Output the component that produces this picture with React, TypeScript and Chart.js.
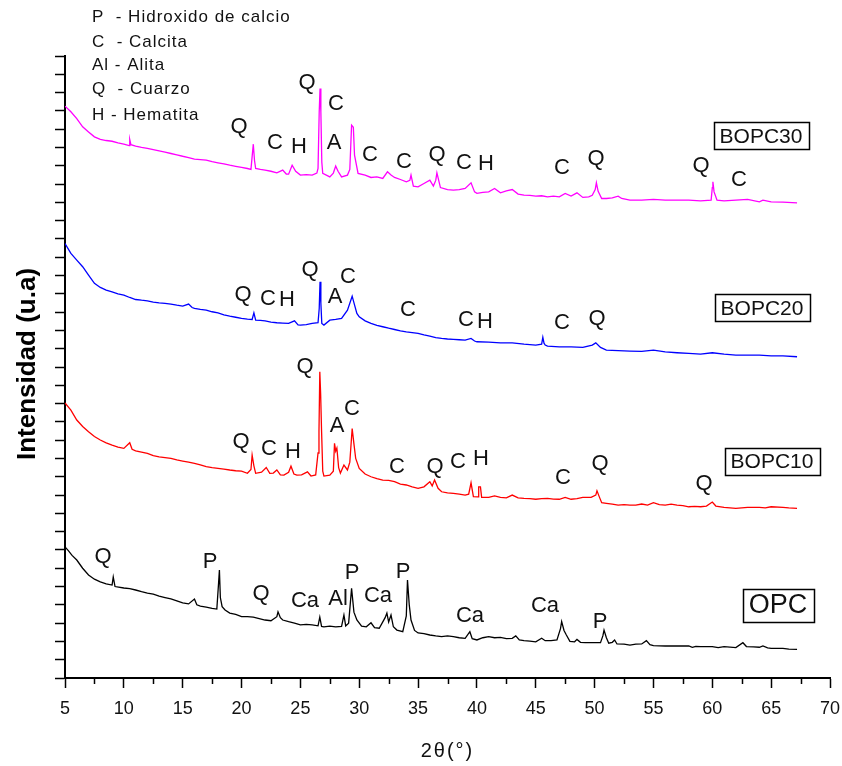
import { useEffect, useRef } from 'react';
import { Chart, registerables } from 'chart.js';

Chart.register(...registerables);

type Pt = [number, number];

// 2θ (degrees) vs. stacked intensity (arbitrary units)
const OPC: Pt[] = [
  [5, 7.17], [5.3, 6.95], [5.6, 6.7], [6, 6.45], [6.5, 6.0], [7, 5.63], [7.5, 5.4], [8, 5.26], [8.5, 5.15], [9, 5.08],
  [9.1, 5.52], [9.25, 5.0], [10, 4.92], [10.5, 4.88], [11, 4.81], [11.5, 4.72], [12, 4.64], [12.5, 4.58], [13, 4.48],
  [13.5, 4.4], [14, 4.32], [14.5, 4.22], [15, 4.11], [15.5, 4.05], [16, 4.32], [16.2, 4.0], [16.5, 3.93], [17, 3.88],
  [17.5, 3.8], [17.9, 3.77], [18.05, 5.2], [18.12, 5.9], [18.2, 4.4], [18.35, 3.9], [18.6, 3.72], [19, 3.55],
  [19.5, 3.48], [20, 3.35], [20.5, 3.36], [21, 3.33], [21.5, 3.25], [22, 3.17], [22.5, 3.13], [23.0, 3.35],
  [23.1, 3.62], [23.3, 3.3], [23.5, 3.17], [24, 3.08], [24.5, 3.0], [25, 2.9], [25.5, 2.93], [26, 2.9], [26.5, 2.85],
  [26.65, 3.33], [26.8, 2.82], [27, 2.79], [27.5, 2.83], [28, 2.8], [28.5, 2.82], [28.7, 3.44], [28.85, 2.85],
  [29.1, 3.0], [29.35, 4.9], [29.55, 3.6], [29.8, 3.17], [30.2, 2.84], [30.6, 2.8], [31, 3.02], [31.3, 2.75],
  [31.7, 2.72], [32.2, 3.3], [32.35, 3.55], [32.5, 3.06], [32.7, 3.44], [32.9, 2.8], [33.2, 2.62], [33.7, 2.53],
  [34.0, 3.4], [34.1, 5.36], [34.25, 4.0], [34.4, 3.17], [34.7, 2.6], [35, 2.46], [35.5, 2.42], [36, 2.35],
  [36.5, 2.3], [37, 2.26], [37.5, 2.3], [38, 2.26], [38.5, 2.2], [39, 2.17], [39.4, 2.53], [39.6, 2.15], [40, 2.08],
  [40.5, 2.2], [41, 2.26], [41.5, 2.2], [42, 2.22], [42.5, 2.15], [43, 2.17], [43.3, 2.3], [43.6, 2.08], [44, 2.04],
  [44.5, 2.02], [45, 1.98], [45.5, 2.17], [45.8, 2.04], [46.3, 2.04], [46.8, 2.08], [47.1, 2.7], [47.2, 3.08],
  [47.4, 2.6], [47.6, 2.35], [47.9, 2.0], [48.3, 1.98], [48.5, 2.11], [48.8, 1.95], [49.2, 1.93], [50.5, 1.93],
  [50.7, 2.3], [50.8, 2.62], [51.0, 2.2], [51.2, 1.9], [51.5, 1.95], [51.7, 2.08], [51.9, 1.86], [52.5, 1.85],
  [53, 1.8], [53.5, 1.85], [54, 1.86], [54.4, 2.04], [54.7, 1.82], [55, 1.77], [56, 1.75], [57, 1.75], [58, 1.75],
  [58.3, 1.68], [58.6, 1.73], [59, 1.71], [60, 1.71], [60.5, 1.66], [61, 1.71], [62, 1.66], [62.6, 1.93],
  [62.9, 1.72], [63.5, 1.7], [64, 1.68], [64.3, 1.75], [64.7, 1.65], [65, 1.62], [66, 1.62], [66.5, 1.58], [67.2, 1.57],
];

const BOPC10: Pt[] = [
  [5, 15.04], [5.5, 14.64], [6, 14.1], [6.5, 13.75], [7, 13.46], [7.5, 13.2], [8, 13.01], [8.5, 12.85], [9, 12.73],
  [9.5, 12.62], [10, 12.55], [10.5, 12.86], [10.7, 12.5], [11, 12.42], [11.5, 12.35], [12, 12.28], [12.5, 12.15],
  [13, 12.09], [13.5, 12.05], [14, 12.01], [14.5, 11.92], [15, 11.86], [15.5, 11.8], [16, 11.73], [16.5, 11.65],
  [17, 11.55], [17.5, 11.5], [18, 11.46], [18.5, 11.42], [19, 11.37], [19.5, 11.33], [20, 11.31], [20.5, 11.19],
  [20.8, 11.4], [20.9, 12.19], [21.05, 11.6], [21.2, 11.19], [21.7, 11.25], [22.1, 11.51], [22.4, 11.19],
  [22.7, 11.2], [23, 11.37], [23.3, 11.1], [23.6, 11.09], [24.0, 11.25], [24.2, 11.58], [24.45, 11.15], [24.7, 11.09],
  [25.1, 11.1], [25.6, 11.27], [25.9, 11.04], [26.3, 11.1], [26.5, 12.3], [26.58, 13.5], [26.65, 16.74],
  [26.72, 15.57], [26.8, 13.5], [26.9, 11.3], [27, 11.04], [27.5, 11.09], [27.8, 11.3], [27.9, 12.83], [28.0, 12.4],
  [28.1, 12.57], [28.25, 11.5], [28.4, 11.2], [28.7, 11.64], [29.0, 11.37], [29.2, 11.8], [29.4, 13.64],
  [29.55, 12.8], [29.7, 12.0], [30, 11.46], [30.5, 11.15], [31, 11.0], [31.5, 10.9], [32, 10.82], [32.5, 10.8],
  [33, 10.73], [33.5, 10.6], [34, 10.55], [34.5, 10.45], [35, 10.37], [35.5, 10.45], [36, 10.73], [36.2, 10.5],
  [36.4, 10.82], [36.7, 10.37], [37, 10.18], [37.5, 10.12], [38, 10.09], [38.5, 10.05], [39, 10.0], [39.3, 10.05],
  [39.5, 10.67], [39.7, 9.91], [40.1, 9.9], [40.15, 10.45], [40.3, 10.45], [40.4, 9.87], [41, 9.87], [41.5, 9.95],
  [42, 9.87], [42.5, 9.85], [43, 10.0], [43.5, 9.85], [44, 9.82], [44.5, 9.8], [45, 9.77], [45.5, 9.8], [46, 9.82],
  [46.5, 9.78], [47, 9.77], [47.5, 9.87], [48, 9.77], [48.5, 9.8], [49, 9.87], [49.7, 9.87], [50.1, 10.0],
  [50.2, 10.23], [50.4, 9.9], [50.6, 9.58], [51, 9.55], [51.5, 9.5], [52, 9.45], [52.5, 9.48], [53, 9.45],
  [53.5, 9.45], [54, 9.51], [54.5, 9.45], [55, 9.58], [55.5, 9.48], [56, 9.45], [56.5, 9.5], [57, 9.45],
  [57.5, 9.42], [58, 9.36], [58.5, 9.38], [59, 9.36], [59.5, 9.4], [60, 9.62], [60.3, 9.4], [61, 9.33], [61.5, 9.3],
  [62, 9.27], [62.5, 9.3], [63, 9.33], [64, 9.33], [64.5, 9.3], [65, 9.36], [66, 9.33], [66.5, 9.3], [67.2, 9.27],
];

const BOPC20: Pt[] = [
  [5, 23.75], [5.5, 23.21], [6, 22.84], [6.5, 22.48], [7, 22.02], [7.5, 21.57], [8, 21.35], [8.5, 21.2], [9, 21.11],
  [9.5, 21.0], [10, 20.93], [10.5, 20.8], [11, 20.69], [11.5, 20.65], [12, 20.62], [12.5, 20.55], [13, 20.51],
  [13.5, 20.48], [14, 20.44], [14.5, 20.38], [15, 20.33], [15.5, 20.44], [15.8, 20.25], [16, 20.2], [16.5, 20.15],
  [17, 20.11], [17.5, 20.02], [18, 19.96], [18.5, 19.85], [19, 19.78], [19.5, 19.72], [20, 19.66], [20.5, 19.62],
  [20.9, 19.6], [21.05, 19.96], [21.2, 19.56], [21.6, 19.55], [22, 19.52], [22.5, 19.45], [23, 19.42], [23.5, 19.4],
  [24, 19.38], [24.5, 19.52], [24.8, 19.3], [25, 19.29], [25.5, 19.32], [26, 19.38], [26.5, 19.42], [26.6, 20.2],
  [26.67, 21.66], [26.74, 20.5], [26.82, 19.38], [27, 19.29], [27.5, 19.56], [28, 19.6], [28.5, 19.66], [29, 20.11],
  [29.4, 20.87], [29.6, 20.4], [29.8, 19.93], [30, 19.74], [30.5, 19.52], [31, 19.38], [31.5, 19.28], [32, 19.2],
  [32.5, 19.12], [33, 19.05], [33.5, 18.98], [34, 18.92], [34.5, 18.88], [35, 18.84], [35.5, 18.76], [36, 18.69],
  [36.5, 18.6], [37, 18.56], [37.5, 18.53], [38, 18.51], [38.5, 18.49], [39, 18.47], [39.5, 18.56], [39.8, 18.42],
  [40, 18.38], [41, 18.36], [42, 18.32], [43, 18.32], [44, 18.25], [45, 18.2], [45.5, 18.25], [45.6, 18.62],
  [45.7, 18.3], [45.8, 18.2], [46, 18.14], [47, 18.1], [48, 18.1], [49, 18.07], [49.8, 18.2], [50.1, 18.32],
  [50.5, 18.07], [51, 17.92], [52, 17.89], [53, 17.87], [54, 17.85], [55, 17.92], [56, 17.83], [57, 17.78],
  [58, 17.74], [59, 17.7], [60, 17.78], [61, 17.7], [62, 17.65], [63, 17.65], [64, 17.65], [65, 17.61], [66, 17.61],
  [67.2, 17.56],
];

const BOPC30: Pt[] = [
  [5, 31.26], [5.5, 30.95], [6, 30.58], [6.5, 30.13], [7, 29.85], [7.5, 29.58], [8, 29.44], [8.5, 29.38], [9, 29.34],
  [9.5, 29.25], [10, 29.18], [10.45, 29.1], [10.5, 29.44], [10.6, 29.15], [11, 29.07], [11.5, 29.0], [12, 28.95],
  [12.5, 28.88], [13, 28.81], [13.5, 28.74], [14, 28.67], [14.5, 28.6], [15, 28.52], [15.5, 28.45], [16, 28.36],
  [16.5, 28.34], [17, 28.31], [17.5, 28.22], [18, 28.16], [18.5, 28.1], [19, 28.03], [19.5, 27.97], [20, 27.91],
  [20.5, 27.85], [20.8, 27.8], [20.9, 28.5], [21.0, 29.18], [21.1, 28.3], [21.2, 27.85], [21.6, 27.8], [22, 27.76],
  [22.5, 27.7], [23, 27.61], [23.5, 27.76], [23.8, 27.55], [24, 27.54], [24.3, 28.03], [24.6, 27.7], [25, 27.49],
  [25.5, 27.52], [26, 27.49], [26.4, 27.6], [26.5, 27.85], [26.6, 30.95], [26.67, 32.22], [26.74, 30.95],
  [26.82, 28.2], [26.9, 27.58], [27.5, 27.39], [27.8, 27.6], [28, 27.98], [28.2, 27.7], [28.5, 27.39], [29, 27.49],
  [29.2, 27.8], [29.35, 30.22], [29.5, 30.1], [29.6, 28.58], [29.9, 27.58], [30.5, 27.49], [31, 27.36],
  [31.5, 27.39], [32, 27.31], [32.4, 27.67], [32.7, 27.49], [33, 27.36], [33.5, 27.25], [34, 27.12], [34.3, 27.2],
  [34.4, 27.49], [34.6, 26.89], [35, 26.85], [35.5, 27.03], [36, 27.21], [36.3, 26.89], [36.5, 27.2], [36.6, 27.61],
  [36.9, 26.81], [37.5, 26.7], [38, 26.67], [38.5, 26.7], [39, 26.76], [39.5, 27.07], [39.8, 26.57], [40, 26.49],
  [40.5, 26.55], [41, 26.57], [41.5, 26.76], [42, 26.52], [42.5, 26.63], [43, 26.7], [43.5, 26.45], [44, 26.39],
  [44.5, 26.38], [45, 26.34], [45.5, 26.36], [46, 26.3], [46.5, 26.34], [47, 26.3], [47.5, 26.49], [48, 26.34],
  [48.5, 26.52], [49, 26.27], [49.5, 26.3], [49.8, 26.39], [50.05, 26.7], [50.15, 27.07], [50.3, 26.6],
  [50.6, 26.21], [51, 26.21], [51.5, 26.25], [52, 26.34], [52.3, 26.21], [53, 26.12], [54, 26.12], [55, 26.16],
  [56, 26.12], [57, 26.12], [58, 26.12], [59, 26.08], [59.9, 26.12], [60.0, 26.8], [60.05, 27.12], [60.15, 26.57],
  [60.4, 26.12], [61, 26.08], [62, 26.12], [63, 26.16], [64, 26.03], [64.3, 26.12], [65, 26.03], [66, 26.01],
  [67.2, 25.97],
];

// Phase marks: text and anchor in data coordinates (2θ, intensity)
const PEAK_LABELS: { t: string; x: number; y: number }[] = [
  // BOPC30
  { t: 'Q', x: 19.78, y: 30.12 }, { t: 'C', x: 22.84, y: 29.25 }, { t: 'H', x: 24.88, y: 29.03 },
  { t: 'Q', x: 25.56, y: 32.53 }, { t: 'C', x: 28.03, y: 31.38 }, { t: 'A', x: 27.86, y: 29.25 },
  { t: 'C', x: 30.91, y: 28.59 }, { t: 'C', x: 33.8, y: 28.21 }, { t: 'Q', x: 36.61, y: 28.59 },
  { t: 'C', x: 38.9, y: 28.16 }, { t: 'H', x: 40.77, y: 28.1 }, { t: 'C', x: 47.23, y: 27.88 },
  { t: 'Q', x: 50.12, y: 28.37 }, { t: 'Q', x: 59.04, y: 27.99 }, { t: 'C', x: 62.27, y: 27.23 },
  // BOPC20
  { t: 'Q', x: 20.12, y: 20.94 }, { t: 'C', x: 22.25, y: 20.72 }, { t: 'H', x: 23.86, y: 20.67 },
  { t: 'Q', x: 25.82, y: 22.31 }, { t: 'A', x: 27.94, y: 20.83 }, { t: 'C', x: 29.05, y: 21.92 },
  { t: 'C', x: 34.14, y: 20.12 }, { t: 'C', x: 39.07, y: 19.57 }, { t: 'H', x: 40.69, y: 19.46 },
  { t: 'C', x: 47.23, y: 19.41 }, { t: 'Q', x: 50.2, y: 19.63 },
  // BOPC10
  { t: 'Q', x: 19.95, y: 12.9 }, { t: 'C', x: 22.33, y: 12.52 }, { t: 'H', x: 24.37, y: 12.36 },
  { t: 'Q', x: 25.39, y: 17.0 }, { t: 'A', x: 28.11, y: 13.78 }, { t: 'C', x: 29.39, y: 14.71 },
  { t: 'C', x: 33.21, y: 11.54 }, { t: 'Q', x: 36.44, y: 11.54 }, { t: 'C', x: 38.39, y: 11.81 },
  { t: 'H', x: 40.35, y: 11.97 }, { t: 'C', x: 47.31, y: 10.94 }, { t: 'Q', x: 50.46, y: 11.7 },
  { t: 'Q', x: 59.29, y: 10.61 },
  // OPC
  { t: 'Q', x: 8.23, y: 6.62 }, { t: 'P', x: 17.32, y: 6.34 }, { t: 'Q', x: 21.65, y: 4.59 },
  { t: 'Ca', x: 25.39, y: 4.21 }, { t: 'Al', x: 28.2, y: 4.32 }, { t: 'P', x: 29.39, y: 5.74 },
  { t: 'Ca', x: 31.59, y: 4.48 }, { t: 'P', x: 33.72, y: 5.8 }, { t: 'Ca', x: 39.41, y: 3.39 },
  { t: 'Ca', x: 45.78, y: 3.94 }, { t: 'P', x: 50.46, y: 3.06 },
];

const SAMPLE_NAMES = ['BOPC30', 'BOPC20', 'BOPC10', 'OPC'];
const SAMPLE_TAG_X = [64.14, 64.22, 65.07, 65.58];
const SAMPLE_TAG_Y = [29.63, 20.23, 11.86, 3.99];

const LEGEND_LINES = ['P  - Hidroxido de calcio', 'C  - Calcita', 'Al - Alita', 'Q  - Cuarzo', 'H - Hematita'];
const LEGEND_X = 7.29;
const LEGEND_Y = [36.14, 34.77, 33.51, 32.2, 30.78];

const SERIES = [
  { name: 'BOPC30', data: BOPC30, color: '#ff00ff' },
  { name: 'BOPC20', data: BOPC20, color: '#0000ff' },
  { name: 'BOPC10', data: BOPC10, color: '#ff0000' },
  { name: 'OPC', data: OPC, color: '#000000' },
];

const FONT = '"Liberation Sans", Arial, sans-serif';

const annotate = {
  id: 'annotate',
  afterDraw(chart: any) {
    const { ctx, chartArea } = chart;
    const xs = chart.scales.x;
    const ys = chart.scales.y;
    ctx.save();
    ctx.fillStyle = '#111';
    ctx.strokeStyle = '#000';

    // minor x ticks
    ctx.lineWidth = 1.5;
    for (let v = 7.5; v < 70; v += 5) {
      const px = Math.round(xs.getPixelForValue(v)) + 0.5;
      ctx.beginPath();
      ctx.moveTo(px, chartArea.bottom);
      ctx.lineTo(px, chartArea.bottom + 6);
      ctx.stroke();
    }

    // peak labels
    ctx.textAlign = 'center';
    ctx.textBaseline = 'middle';
    ctx.font = `22px ${FONT}`;
    for (const l of PEAK_LABELS) {
      ctx.fillText(l.t, xs.getPixelForValue(l.x), ys.getPixelForValue(l.y));
    }

    // sample tags in boxes
    SAMPLE_NAMES.forEach((name, i) => {
      const fs = name === 'OPC' ? 27 : 21;
      ctx.font = `${fs}px ${FONT}`;
      ctx.letterSpacing = '0px';
      const cx = xs.getPixelForValue(SAMPLE_TAG_X[i]);
      const cy = ys.getPixelForValue(SAMPLE_TAG_Y[i]);
      const w = ctx.measureText(name).width + 12;
      const h = fs + 6;
      ctx.lineWidth = 1.5;
      ctx.strokeRect(Math.round(cx - w / 2) + 0.5, Math.round(cy - h / 2) + 0.5, Math.round(w), Math.round(h));
      ctx.fillText(name, cx, cy + 1);
    });

    // phase legend
    ctx.textAlign = 'left';
    ctx.font = `17px ${FONT}`;
    ctx.letterSpacing = '1px';
    LEGEND_LINES.forEach((t, i) => {
      ctx.fillText(t, xs.getPixelForValue(LEGEND_X), ys.getPixelForValue(LEGEND_Y[i]));
    });

    // x axis title
    ctx.textAlign = 'center';
    ctx.font = `20px ${FONT}`;
    ctx.letterSpacing = '2px';
    ctx.fillText('2θ(°)', (chartArea.left + chartArea.right) / 2, chartArea.bottom + 73);

    // y axis title
    ctx.letterSpacing = '0px';
    ctx.font = `bold 26px ${FONT}`;
    ctx.translate(chartArea.left - 37, (chartArea.top + chartArea.bottom) / 2 - 3);
    ctx.rotate(-Math.PI / 2);
    ctx.fillStyle = '#000';
    ctx.fillText('Intensidad (u.a)', 0, 0);
    ctx.restore();
  },
};

export default function App() {
  const ref = useRef<HTMLCanvasElement | null>(null);
  useEffect(() => {
    if (!ref.current) return;
    const chart = new Chart(ref.current, {
      type: 'line',
      data: {
        datasets: SERIES.map((s) => ({
          label: s.name,
          data: s.data.map(([x, y]) => ({ x, y })),
          borderColor: s.color,
          backgroundColor: s.color,
          borderWidth: 1.3,
          pointRadius: 0,
          tension: 0,
          fill: false,
        })),
      },
      options: {
        animation: false,
        responsive: false,
        devicePixelRatio: 1,
        layout: { padding: { top: 56, right: 12, left: 0, bottom: 0 } },
        plugins: { legend: { display: false }, tooltip: { enabled: false } },
        scales: {
          x: {
            type: 'linear',
            position: 'bottom',
            min: 5,
            max: 70,
            afterFit: (s: any) => {
              s.height = 88;
              s.paddingLeft = 0;
              s.paddingRight = 0;
            },
            ticks: {
              stepSize: 2.5,
              autoSkip: false,
              maxRotation: 0,
              padding: 10,
              color: '#111',
              font: { family: FONT, size: 18 },
              callback: (v: any) => (Number(v) % 5 === 0 ? String(v) : ''),
            },
            grid: {
              drawOnChartArea: false,
              drawTicks: true,
              tickLength: 10,
              tickWidth: 1.5,
              tickColor: (c: any) => (c.tick && c.tick.value % 5 === 0 ? '#000' : 'rgba(0,0,0,0)'),
            },
            border: { display: true, color: '#000', width: 2 },
          },
          y: {
            type: 'linear',
            min: 0,
            max: 34,
            afterFit: (s: any) => {
              s.width = 65;
              s.paddingTop = 0;
              s.paddingBottom = 0;
            },
            ticks: { stepSize: 1, autoSkip: false, callback: () => '' },
            grid: { drawOnChartArea: false, drawTicks: true, tickLength: 10, tickWidth: 1.5, tickColor: '#000' },
            border: { display: true, color: '#000', width: 2 },
          },
        },
      },
      plugins: [annotate],
    } as any);
    return () => chart.destroy();
  }, []);
  return (
    <canvas
      ref={ref}
      width={842}
      height={766}
      style={{ display: 'block', position: 'absolute', left: 0, top: 0 }}
    />
  );
}
